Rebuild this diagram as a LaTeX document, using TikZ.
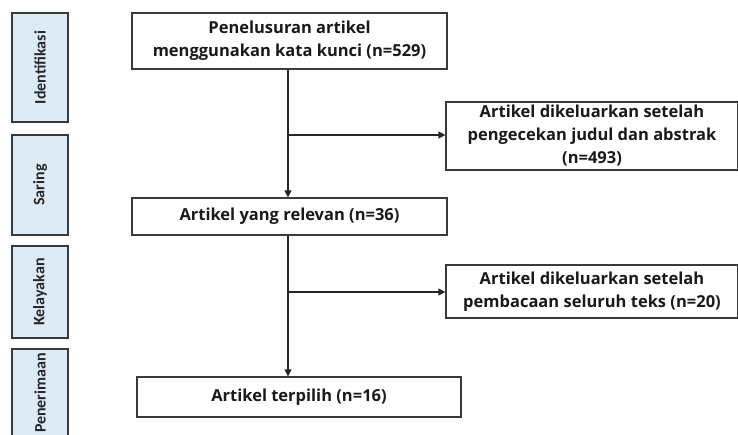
\documentclass[tikz,border=0pt]{standalone}
\usepackage{fontspec}
\setmainfont{Open Sans}
\newfontfamily\sidefont{Carlito}
\usetikzlibrary{arrows.meta}
\definecolor{sideblue}{HTML}{DDEBF7}
\definecolor{edgegray}{HTML}{3A3A3A}
\tikzset{
  stage/.style={draw=edgegray, line width=1.2pt, fill=sideblue},
  stagelabel/.style={rotate=90, inner sep=1pt, font=\sidefont\bfseries\fontsize{16}{18}\selectfont, text=black!85},
  flowbox/.style={draw=edgegray, line width=1.2pt, fill=white, align=center,
    font=\bfseries\fontsize{16.5}{23}\selectfont, text=black!90},
  flowline/.style={line width=1.2pt, draw=black!85},
  flowarrow/.style={flowline, -{Triangle[length=7pt,width=7pt]}}
}
\begin{document}
\begin{tikzpicture}[x=1pt, y=-1pt]
\useasboundingbox (0,0) rectangle (738,435);
% stage boxes
\draw[stage] (12,13) rectangle (68,122);
\node[stagelabel] (s1) at (40,67.5) {Identifikasi};
\draw[stage] (12,135) rectangle (68,235);
\node[stagelabel] (s2) at (40,185) {Saring};
\draw[stage] (12,246) rectangle (68,338);
\node[stagelabel] (s3) at (40,292) {Kelayakan};
\draw[stage] (12,349) rectangle (68,445);
\node[stagelabel] (s4) at (40,393) {Penerimaan};
% flow boxes
\node[flowbox, minimum width=315pt, minimum height=56pt] (b1) at (289.5,41) {Penelusuran artikel\\menggunakan kata kunci (n=529)};
\node[flowbox, minimum width=315pt, minimum height=37pt] (b2) at (289.5,216.5) {Artikel yang relevan (n=36)};
\node[flowbox, minimum width=324pt, minimum height=40pt] (b3) at (299,397) {Artikel terpilih (n=16)};
\node[flowbox, minimum width=292pt, minimum height=68pt] (r1) at (592,136) {Artikel dikeluarkan setelah\\pengecekan judul dan abstrak\\(n=493)};
\node[flowbox, minimum width=292pt, minimum height=53pt] (r2) at (592,291.5) {Artikel dikeluarkan setelah\\pembacaan seluruh teks (n=20)};
% connectors
\coordinate (j1) at (288,135);
\coordinate (j2) at (288,292);
\draw[flowarrow] (b1.south -| j1) -- (b2.north -| j1);
\draw[flowarrow] (j1) -- (j1 -| r1.west);
\draw[flowarrow] (b2.south -| j2) -- (b3.north -| j2);
\draw[flowarrow] (j2) -- (j2 -| r2.west);
\end{tikzpicture}
\end{document}
